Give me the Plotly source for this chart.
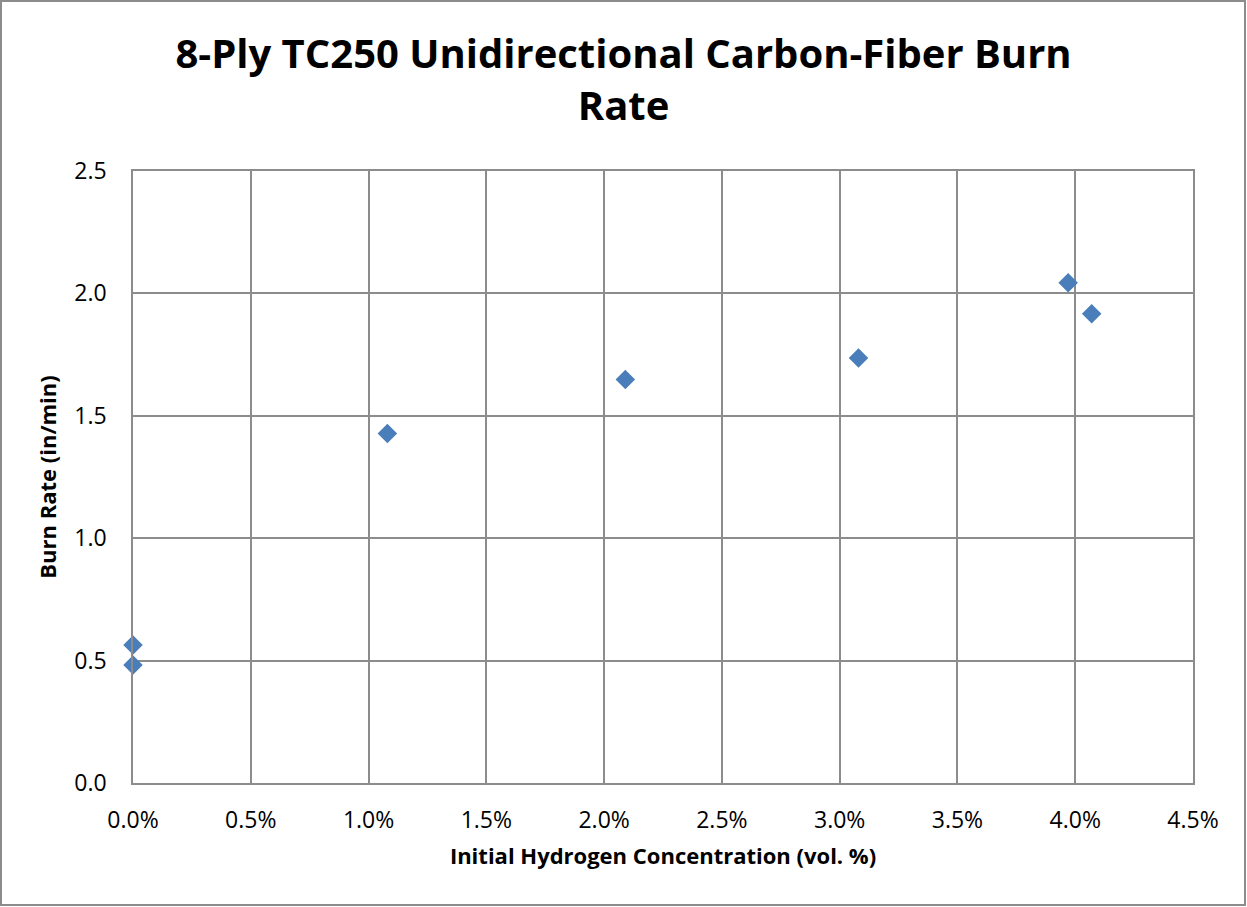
import plotly.graph_objects as go

h2_conc = [0.0, 0.0, 0.0108, 0.0209, 0.0308, 0.0397, 0.0407]
burn_rate = [0.564, 0.482, 1.428, 1.648, 1.736, 2.043, 1.917]

x_ticks = [0, 0.005, 0.01, 0.015, 0.02, 0.025, 0.03, 0.035, 0.04, 0.045]
y_ticks = [0, 0.5, 1.0, 1.5, 2.0, 2.5]

FONT = "Open Sans, sans-serif"
GRID = "#8c8c8c"

fig = go.Figure()
fig.add_trace(go.Scatter(
    x=h2_conc, y=burn_rate, mode="markers",
    marker=dict(symbol="diamond", size=15, color="#4A7EBB",
                line=dict(width=0)),
    showlegend=False, cliponaxis=False,
))

fig.update_layout(
    width=1247, height=907,
    margin=dict(l=133, r=54, t=171, b=124),
    paper_bgcolor="white", plot_bgcolor="white",
    font=dict(family=FONT, color="black"),
    title=dict(
        text="<b>8-Ply TC250 Unidirectional Carbon-Fiber Burn<br>Rate</b>",
        x=0.5, xanchor="center", y=0.925, yanchor="top",
        font=dict(size=40, family=FONT),
    ),
    xaxis=dict(
        range=[0, 0.045], tickvals=x_ticks, tickformat=".1%",
        showgrid=True, gridcolor=GRID, gridwidth=1.5,
        showline=True, linecolor=GRID, linewidth=1.5, mirror=True,
        zeroline=False, ticks="", ticklabelstandoff=16,
        tickfont=dict(size=23),
        title=dict(text="<b>Initial Hydrogen Concentration (vol. %)</b>",
                   font=dict(size=22), standoff=14),
    ),
    yaxis=dict(
        range=[0, 2.5], tickvals=y_ticks, tickformat=".1f",
        showgrid=True, gridcolor=GRID, gridwidth=1.5,
        showline=True, linecolor=GRID, linewidth=1.5, mirror=True,
        zeroline=False, ticks="", ticklabelstandoff=20,
        tickfont=dict(size=23),
        title=dict(text="<b>Burn Rate (in/min)</b>",
                   font=dict(size=22), standoff=12),
    ),
    shapes=[dict(
        type="rect", xref="paper", yref="paper",
        x0=(1 - 133) / 1060, x1=(1245 - 133) / 1060,
        y0=(783 - 905) / 612, y1=(783 - 1) / 612,
        line=dict(color="#8c8c8c", width=2), fillcolor="rgba(0,0,0,0)",
        layer="below",
    )],
)

fig.write_html("out.html")
